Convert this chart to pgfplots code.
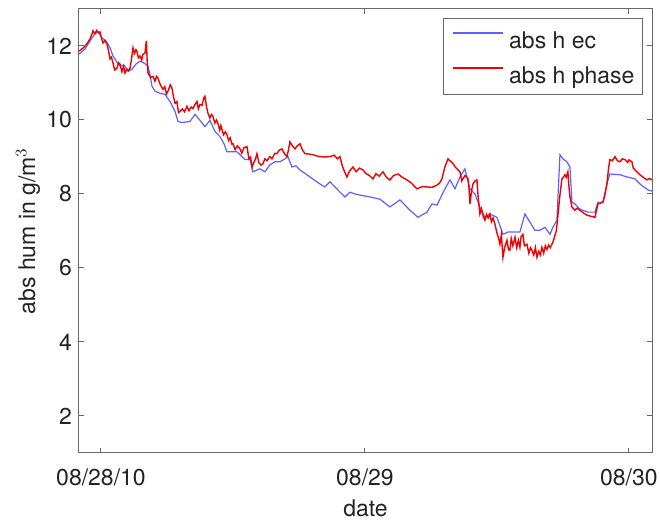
\documentclass[border=0pt]{standalone}
\usepackage{fontspec}
\setmainfont{TeX Gyre Heros}
\usepackage{pgfplots}
\pgfplotsset{compat=1.18}
\definecolor{axgray}{RGB}{105,105,105}
\definecolor{txtgray}{RGB}{35,35,35}
\definecolor{ecblue}{RGB}{95,95,255}
\definecolor{phasered}{RGB}{240,0,0}
\newcommand{\fnt}{\fontsize{11.5pt}{13.8pt}\selectfont}
\begin{document}
\begin{tikzpicture}
\begin{axis}[
  name=ax,
  scale only axis,
  width=286.5pt, height=222pt,
  xmin=-2, xmax=50.1, ymin=1, ymax=13,
  xtick={0,24,48}, xticklabels={08/28/10,08/29,08/30},
  ytick={2,4,6,8,10,12},
  tick align=inside, major tick length=2.5pt,
  tick pos=both,
  axis line style={axgray, line width=0.5pt},
  every tick/.style={axgray, line width=0.5pt},
  /pgf/number format/assume math mode=true,
  tick label style={font=\fnt\color{txtgray}},
  xticklabel style={anchor=base, yshift=-16.5pt},
  label style={font=\fnt\color{txtgray}},
  xlabel={date},
  ylabel={abs hum in g/m$^3$},
  xlabel style={at={(axis description cs:0.5,-0.124)}, anchor=center},
  ylabel style={at={(axis description cs:-0.089,0.5)}, anchor=center},
  legend style={at={(rel axis cs:1,1)}, xshift=-4.5pt, yshift=-4.5pt, anchor=north east,
    font=\fnt\color{txtgray}, draw=axgray, line width=0.5pt,
    inner xsep=4pt, inner ysep=4pt, row sep=5pt, column sep=3pt,
    nodes={inner sep=0pt, text height=11pt, text depth=1.5pt}},
  legend cell align=left,
  legend image code/.code={\draw[#1] (0pt,3pt) -- (25pt,3pt);},
]
\addplot[color=ecblue, line width=0.6pt] coordinates {
(-2.0,11.78) (-1.45,11.92) (-1.0,12.14) (-0.55,12.33) (-0.27,12.38) (0.09,12.22) (0.45,12.14) (0.82,11.95)
(1.09,11.73) (1.45,11.56) (1.73,11.46) (2.09,11.48) (2.45,11.32) (2.82,11.37) (3.18,11.51) (3.55,11.59)
(3.91,11.54) (4.27,11.46) (4.45,11.24) (4.64,10.91) (4.91,10.78) (5.36,10.72) (5.82,10.69) (6.27,10.50)
(6.73,10.23) (7.0,9.96) (7.36,9.93) (8.09,9.96) (8.55,10.15) (9.0,9.99) (9.45,9.82) (9.91,9.99)
(10.36,9.69) (10.82,9.55) (11.18,9.36) (11.45,9.14) (12.36,9.14) (13.09,8.93) (13.55,8.93) (13.82,8.60)
(14.45,8.68) (14.91,8.60) (15.36,8.79) (15.82,8.87) (16.27,8.87) (16.73,8.95) (17.0,9.01) (17.36,8.73)
(17.73,8.76) (18.09,8.65) (19.0,8.46) (19.91,8.27) (20.36,8.19) (20.82,8.33) (21.27,8.19) (21.73,8.05)
(22.18,7.92) (22.64,8.05) (23.09,8.00) (23.55,7.97) (24.45,7.92) (25.36,7.86) (26.27,7.65) (27.18,7.84)
(28.09,7.56) (28.82,7.37) (29.64,7.51) (30.09,7.73) (30.55,7.70) (31.27,8.14) (31.73,8.38) (32.18,8.14)
(32.64,8.46) (33.09,8.68) (33.55,8.14) (34.0,8.00) (34.45,7.65) (34.91,7.37) (35.36,7.46) (36.0,7.37)
(36.55,6.91) (37.0,6.97) (37.45,6.97) (38.09,6.97) (38.55,7.46) (39.0,7.24) (39.45,7.02) (39.91,7.02)
(40.36,7.10) (40.82,6.91) (41.09,7.10) (41.45,7.29) (41.73,9.06) (42.0,8.95) (42.36,8.87) (42.64,8.73)
(42.82,7.78) (43.09,7.73) (43.55,7.59) (44.27,7.51) (44.91,7.51) (45.18,7.78) (45.64,7.78) (46.0,8.27)
(46.27,8.54) (47.18,8.52) (47.82,8.46) (48.55,8.41) (49.0,8.27) (49.73,8.11) (50.09,8.08)
};
\addlegendentry{abs h ec}
\addplot[color=phasered, line width=0.7pt] coordinates {
(-2.0,11.86) (-1.6,11.95) (-1.3,12.05) (-1.0,12.19) (-0.85,12.30) (-0.73,12.41) (-0.55,12.33) (-0.4,12.42)
(-0.25,12.36) (-0.09,12.38) (0.05,12.20) (0.18,12.08) (0.35,12.15) (0.55,12.05) (0.7,11.85) (0.82,11.65)
(0.95,11.70) (1.09,11.54) (1.25,11.35) (1.45,11.40) (1.6,11.55) (1.73,11.51) (1.9,11.30) (2.05,11.45)
(2.18,11.27) (2.35,11.38) (2.5,11.33) (2.64,11.40) (2.8,11.70) (2.91,11.95) (3.05,11.80) (3.18,11.90)
(3.27,11.86) (3.4,11.68) (3.55,11.73) (3.7,11.62) (3.82,11.78) (4.0,11.80) (4.12,12.14) (4.2,11.6)
(4.27,11.27) (4.5,11.15) (4.73,11.18) (4.9,11.05) (5.05,11.18) (5.18,11.13) (5.4,10.95) (5.64,10.83)
(5.8,10.90) (5.95,10.70) (6.09,10.78) (6.3,10.95) (6.45,10.86) (6.6,10.62) (6.73,10.45) (6.9,10.50)
(7.05,10.20) (7.18,10.23) (7.4,10.30) (7.6,10.22) (7.82,10.37) (8.0,10.25) (8.2,10.35) (8.36,10.31)
(8.55,10.42) (8.73,10.50) (8.85,10.30) (9.0,10.42) (9.2,10.40) (9.35,10.60) (9.45,10.64) (9.6,10.35)
(9.73,10.18) (9.9,10.05) (10.05,10.15) (10.18,10.10) (10.35,9.92) (10.5,10.00) (10.64,9.90) (10.8,9.72)
(10.9,9.85) (11.0,9.74) (11.15,9.60) (11.3,9.68) (11.45,9.61) (11.6,9.45) (11.75,9.52) (11.9,9.35)
(12.0,9.36) (12.2,9.20) (12.4,9.30) (12.64,9.22) (12.8,9.10) (13.0,9.25) (13.27,9.28) (13.45,8.95)
(13.6,9.00) (13.73,8.73) (13.9,8.85) (14.05,8.95) (14.18,9.09) (14.35,8.85) (14.55,8.78) (14.73,8.82)
(14.9,8.95) (15.1,8.90) (15.36,9.01) (15.55,8.95) (15.8,9.10) (16.0,9.09) (16.2,9.18) (16.45,9.22)
(16.7,9.08) (16.91,9.01) (17.05,9.20) (17.18,9.41) (17.4,9.30) (17.64,9.22) (17.85,9.30) (18.09,9.36)
(18.3,9.20) (18.55,9.09) (18.9,9.08) (19.27,9.06) (19.6,9.03) (19.91,9.01) (20.3,9.00) (20.82,9.01)
(21.2,9.05) (21.5,8.95) (21.73,9.01) (21.95,8.75) (22.15,8.60) (22.36,8.46) (22.6,8.62) (22.91,8.73)
(23.2,8.60) (23.5,8.70) (23.82,8.65) (24.1,8.55) (24.4,8.50) (24.73,8.41) (25.0,8.55) (25.3,8.48)
(25.64,8.60) (25.95,8.45) (26.27,8.38) (26.6,8.50) (27.0,8.54) (27.4,8.45) (27.82,8.38) (28.2,8.30)
(28.73,8.14) (29.2,8.20) (29.64,8.19) (30.1,8.18) (30.55,8.24) (30.8,8.30) (31.0,8.41) (31.27,8.73)
(31.55,8.95) (31.8,8.88) (32.0,8.82) (32.3,8.70) (32.64,8.60) (32.8,8.35) (32.91,8.41) (33.1,8.50)
(33.36,8.42) (33.45,8.20) (33.55,7.73) (33.7,8.10) (33.82,8.27) (34.0,8.35) (34.18,8.38) (34.3,7.90)
(34.45,7.46) (34.6,7.60) (34.75,7.40) (34.91,7.29) (35.05,7.45) (35.2,7.35) (35.36,7.46) (35.5,7.25)
(35.65,7.35) (35.82,7.18) (36.0,6.95) (36.15,6.80) (36.27,6.64) (36.4,6.90) (36.55,6.29) (36.7,6.55)
(36.91,6.75) (37.05,6.50) (37.18,6.48) (37.3,6.80) (37.45,6.60) (37.64,6.83) (37.8,6.55) (37.95,6.75)
(38.09,6.56) (38.2,6.85) (38.36,6.91) (38.5,6.60) (38.73,6.64) (38.9,6.40) (39.05,6.55) (39.18,6.48)
(39.35,6.35) (39.5,6.55) (39.64,6.29) (39.8,6.45) (39.95,6.35) (40.09,6.56) (40.25,6.40) (40.4,6.60)
(40.55,6.50) (40.7,6.62) (40.85,6.55) (41.0,6.64) (41.15,6.75) (41.27,6.88) (41.4,7.00) (41.55,7.43)
(41.7,7.90) (41.91,8.41) (42.05,8.45) (42.18,8.52) (42.3,8.45) (42.45,8.60) (42.55,8.20) (42.64,7.92)
(42.82,7.65) (43.09,7.56) (43.3,7.62) (43.55,7.56) (43.9,7.48) (44.18,7.43) (44.5,7.40) (44.91,7.37)
(45.05,7.55) (45.18,7.73) (45.4,7.75) (45.64,7.78) (45.8,7.95) (46.0,8.27) (46.15,8.70) (46.27,8.93)
(46.5,8.90) (46.73,9.01) (46.95,8.90) (47.18,8.87) (47.4,8.95) (47.64,8.93) (47.9,8.85) (48.0,8.92)
(48.27,8.87) (48.4,8.70) (48.55,8.65) (48.8,8.58) (49.0,8.52) (49.3,8.45) (49.64,8.38) (49.85,8.42)
(50.09,8.38)
};
\addlegendentry{abs h phase}
\end{axis}
\pgfresetboundingbox
\path ([shift={(-39.5pt,-34.5pt)}]ax.south west) rectangle ([shift={(4pt,4.5pt)}]ax.north east);
\end{tikzpicture}
\end{document}
